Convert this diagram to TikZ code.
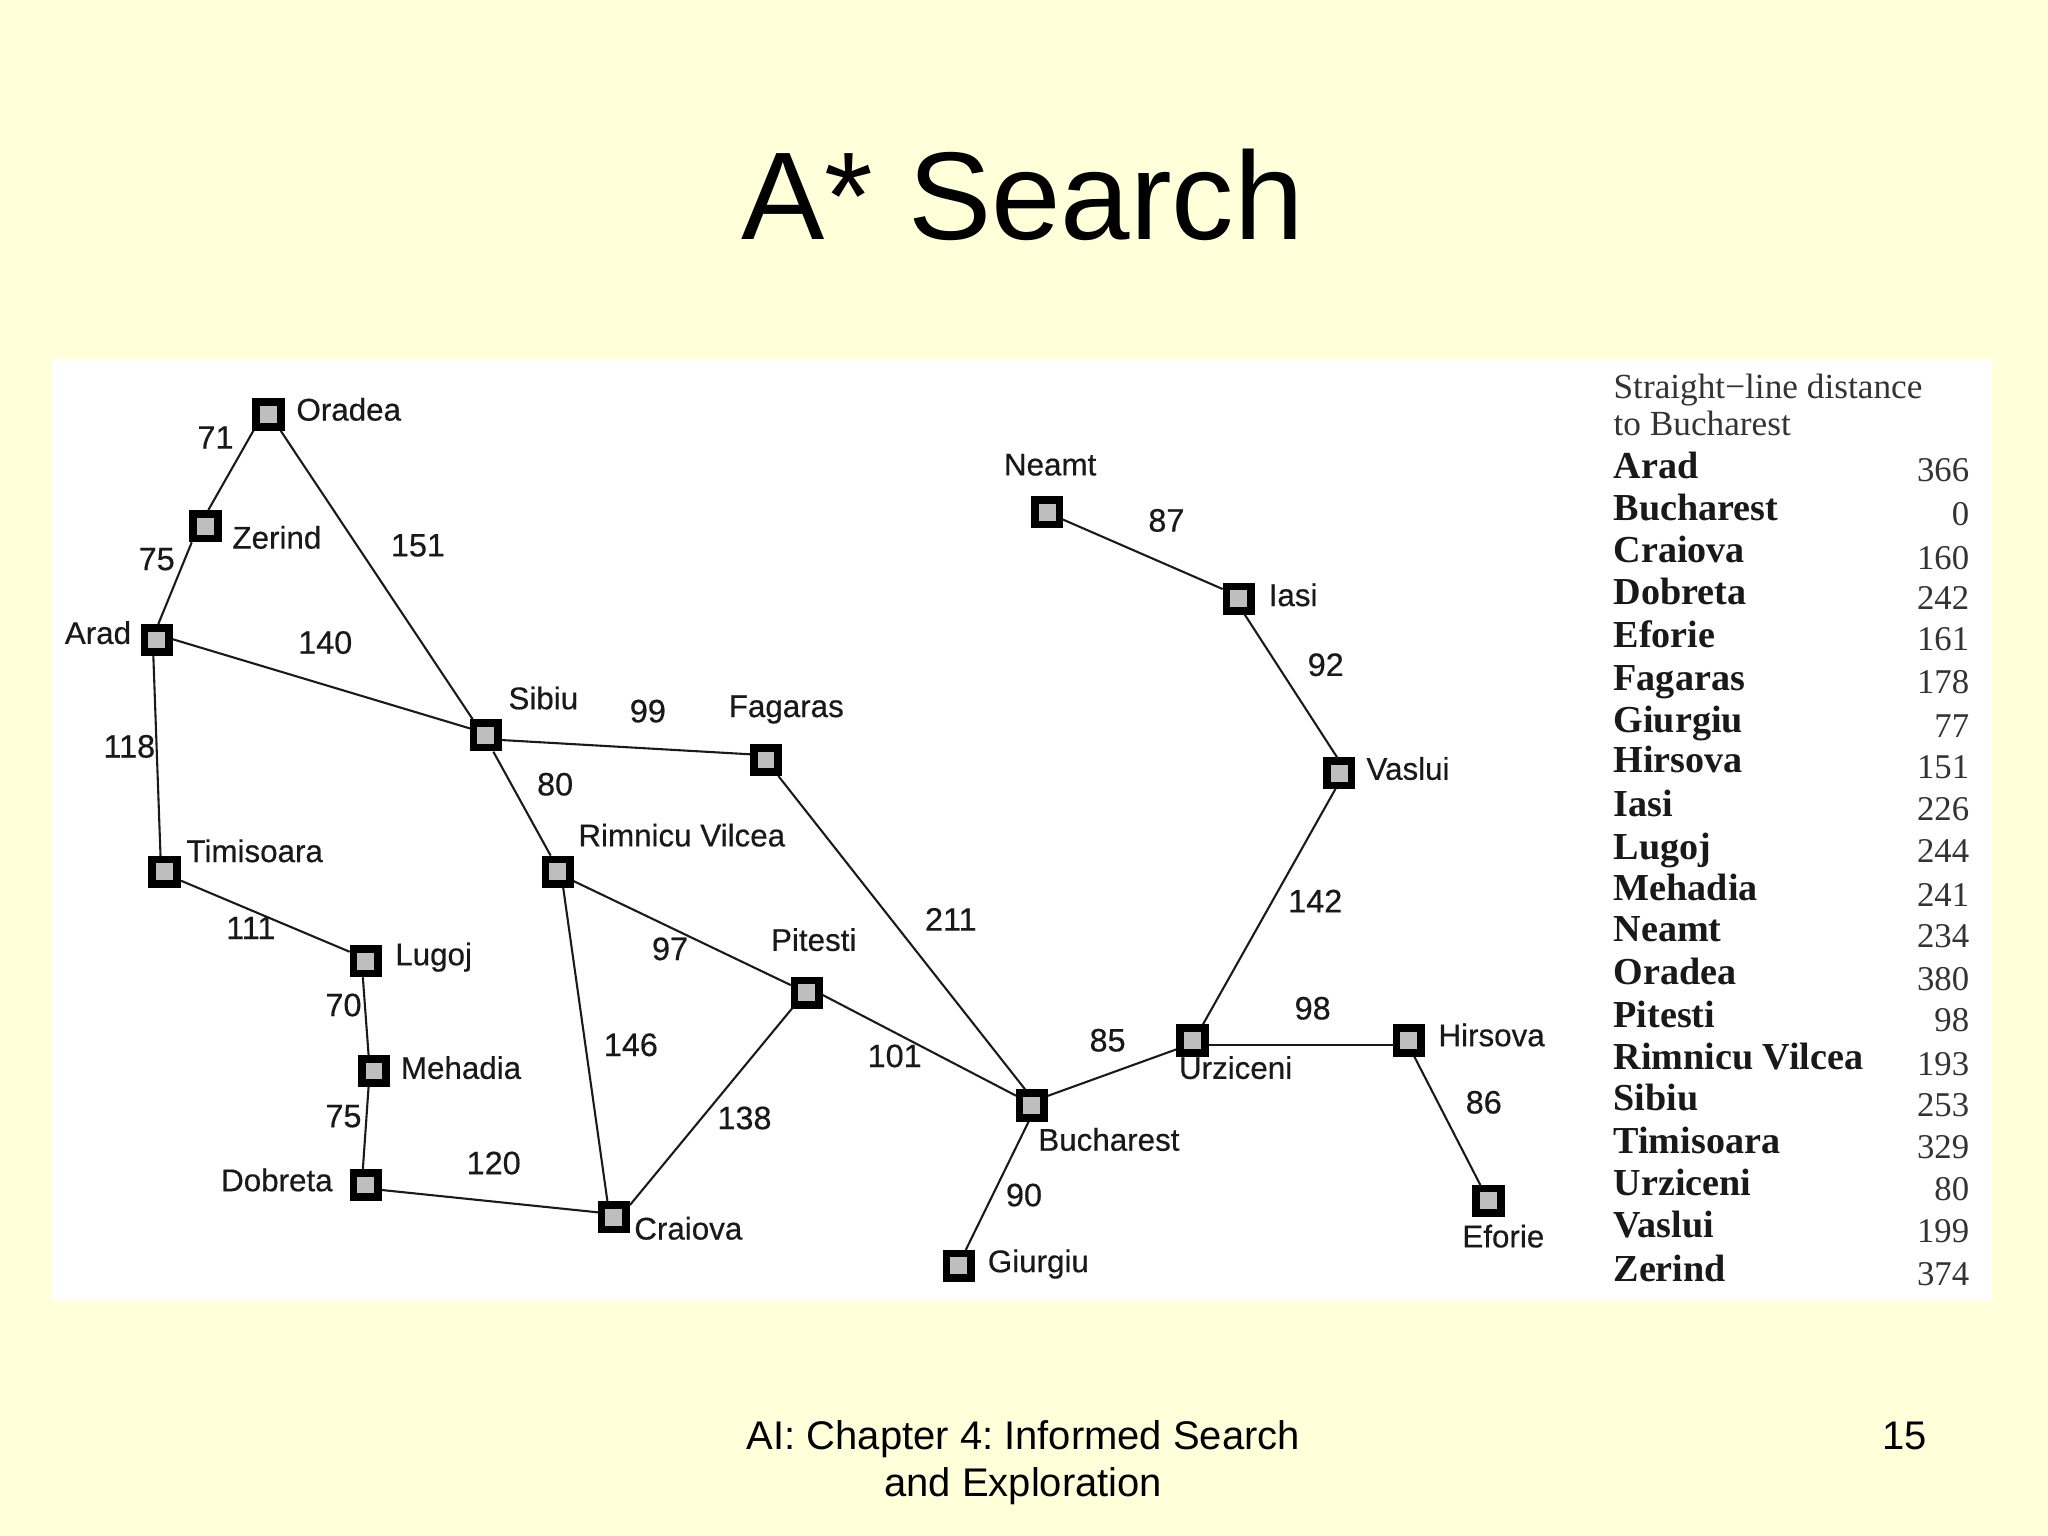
\documentclass[tikz,border=0pt]{standalone}
\usepackage{fontspec}
\setmainfont{Liberation Sans}
\newfontfamily\tabfont{Liberation Serif}
\newfontfamily\labfont[FakeBold=0.45]{Liberation Sans}
\frenchspacing
\definecolor{slidebg}{HTML}{FFFFD9}
\definecolor{boxgray}{HTML}{BEBEBE}
\definecolor{linegray}{HTML}{1A1A1A}
\tikzset{
  city/.style={rectangle,draw=black,fill=boxgray,line width=2.95pt,inner sep=0pt,minimum size=9.4pt},
  road/.style={draw=linegray,line width=0.8pt},
  cityname/.style={anchor=base,inner sep=0pt,font=\labfont\fontsize{12}{13}\selectfont,text=black!90},
  dist/.style={anchor=base,inner sep=0pt,font=\labfont\fontsize{12.4}{14}\selectfont,text=black!90},
  tabhead/.style={anchor=base west,inner sep=0pt,font=\tabfont\fontsize{13.5}{15}\selectfont,text=black!80},
  tabname/.style={anchor=base west,inner sep=0pt,font=\tabfont\bfseries\fontsize{14.6}{16}\selectfont,text=black!90},
  tabval/.style={anchor=base east,inner sep=0pt,font=\tabfont\fontsize{13.3}{15}\selectfont,text=black!80},
}
\begin{document}
\begin{tikzpicture}[x=0.5pt,y=-0.5pt]
\useasboundingbox (0,0) rectangle (1568,1176);
\fill[slidebg] (0,0) rectangle (1568,1176);
\fill[white] (40,275) rectangle (1525,996);
\node[anchor=base,inner sep=0pt,font=\fontsize{47.8}{50}\selectfont] (title) at (783,183) {A* Search};
\node[anchor=base,inner sep=0pt,font=\fontsize{15.3}{18}\selectfont] (foot1) at (783.5,1110) {AI: Chapter 4: Informed Search};
\node[anchor=base,inner sep=0pt,font=\fontsize{15.3}{18}\selectfont] (foot2) at (783.5,1146) {and Exploration};
\node[anchor=base,inner sep=0pt,font=\fontsize{15.3}{18}\selectfont] (pageno) at (1458,1110) {15};
% cities
\foreach \n/\x/\y in {Oradea/205.6/317.4,Zerind/157.3/402.9,Arad/120/490,Sibiu/372/562.9,Fagaras/586.5/581.9,Neamt/801.7/392.1,Iasi/948.5/458.4,Vaslui/1025.4/592,Rimnicu/427/667.4,Timisoara/126/667.4,Lugoj/280/736,Mehadia/286.3/820,Dobreta/280/907.3,Craiova/470/932,Pitesti/617.7/760,Bucharest/790/846.4,Urziceni/913/796.7,Hirsova/1078.6/796.7,Eforie/1139.7/919.4,Giurgiu/734/969.2}
  \node[city] (\n) at (\x,\y) {};
% roads: from a city to a city, each end at its place on the square's edge
\foreach \a/\ax/\ay/\b/\bx/\by in {
  Oradea/-11.6/12.4/Zerind/2.2/-12.4,
  Zerind/-10.5/12.3/Arad/1.2/-12.2,
  Oradea/9.3/12.4/Sibiu/-10.1/-12.2,
  Arad/12.2/-0.6/Sibiu/-12.2/-5.2,
  Arad/-2.6/12.2/Timisoara/-3.1/-12.2,
  Timisoara/12.6/6.9/Lugoj/-12.3/-7.3,
  Lugoj/-2.2/12.2/Mehadia/-4.1/-12.2,
  Mehadia/-4.1/12/Dobreta/-2.2/-12,
  Dobreta/12.3/3.8/Craiova/-12.2/-3.8,
  Rimnicu/4.2/12.2/Craiova/-4.9/-12,
  Sibiu/12.1/3.7/Fagaras/-12.3/-4.4,
  Sibiu/5.7/12.6/Rimnicu/-5.4/-12.3,
  Rimnicu/12/7.1/Pitesti/-12.3/-5.8,
  Fagaras/9.4/12.2/Bucharest/-5.2/-12.4,
  Pitesti/12.2/1.8/Bucharest/-12.1/-7.5,
  Pitesti/-10.8/11.5/Craiova/12.3/-9.4,
  Neamt/11.7/5.5/Iasi/-12.4/-7.4,
  Iasi/4.2/11.7/Vaslui/-1.2/-11.4,
  Vaslui/-2.7/11.6/Urziceni/8/-12.4,
  Bucharest/12/-7.3/Urziceni/-12.3/6.7,
  Urziceni/12.3/3.6/Hirsova/-11.6/3.6,
  Hirsova/4.2/12.2/Eforie/-6.3/-12.1,
  Bucharest/-2.5/12.4/Giurgiu/5.4/-12.2}
  \draw[road] ([shift={(\ax,\ay)}]\a.center) -- ([shift={(\bx,\by)}]\b.center);
% city names
\foreach \t/\x/\y [count=\i] in {Oradea/267/322,Zerind/212/420,Arad/75/493,Sibiu/416/543,Fagaras/602/549,Neamt/804/364,Iasi/990/464,Vaslui/1078/597,Rimnicu Vilcea/522/648,Timisoara/195/660,Lugoj/332/739,Mehadia/353/826,Dobreta/212/912,Craiova/527/949,Pitesti/623/728,Bucharest/849/881,Urziceni/946/826,Hirsova/1142/801,Eforie/1151/955,Giurgiu/795/974}
  \node[cityname] (cn\i) at (\x,\y) {\t};
% distances
\foreach \t/\x/\y [count=\i] in {71/165/343.5,75/120/436.5,151/320/426,140/249/500.5,118/99/580,99/496/553,80/425/609,87/893/407,92/1015/517.5,211/728/712.5,142/1007/698.5,111/192/719,97/513/735,70/263/778,146/483/808.5,101/685/817,138/570/864.5,75/263/863,120/378/899,85/848/805,98/1005/780.5,86/1136/852.5,90/784/923.5}
  \node[dist] (d\i) at (\x,\y) {\t};
% table
\node[tabhead] (h1) at (1235,305) {Straight−line distance};
\node[tabhead] (h2) at (1235,333.5) {to Bucharest};
\foreach \t/\yn/\v/\yv [count=\i] in {Arad/366.5/366/369,Bucharest/398.8/0/402,Craiova/430.8/160/436,Dobreta/462.8/242/467,Eforie/495.5/161/498,Fagaras/528.8/178/531,Giurgiu/560.8/77/565,Hirsova/591.8/151/596,Iasi/624.8/226/628,Lugoj/657.8/244/660,Mehadia/689.8/241/694,Neamt/720.8/234/725.5,Oradea/753.8/380/758,Pitesti/786.8/98/790,Rimnicu Vilcea/818.8/193/823.5,Sibiu/850.5/253/854.5,Timisoara/882.8/329/887,Urziceni/915.5/80/919,Vaslui/947.8/199/951,Zerind/980.8/374/984}{
  \node[tabname] (tn\i) at (1235,\yn) {\t};
  \node[tabval] (tv\i) at (1508,\yv) {\v};
}
\end{tikzpicture}
\end{document}
